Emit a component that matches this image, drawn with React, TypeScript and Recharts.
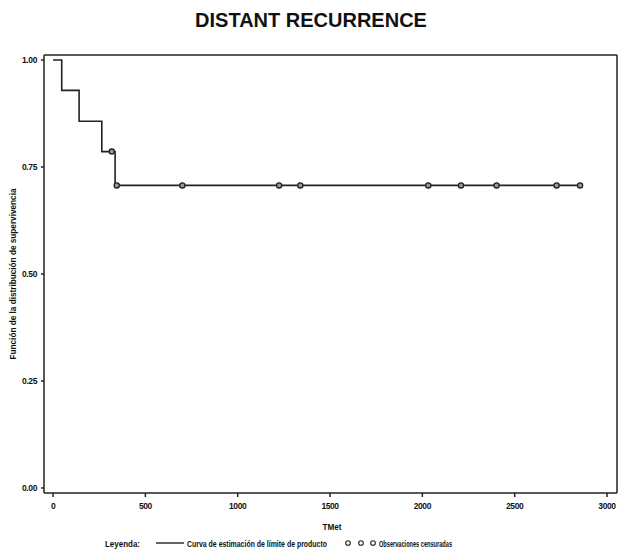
import React from "react";
import { ComposedChart, Line, Scatter, XAxis, YAxis, ReferenceLine } from "recharts";

const eventTimes = [0, 47, 141, 264, 336, 2854];
const survival = [1, 0.929, 0.857, 0.786, 0.707, 0.707];
const censorTimes = [318, 345, 700, 1224, 1339, 2032, 2209, 2402, 2727, 2854];
const censorSurv = [0.786, 0.707, 0.707, 0.707, 0.707, 0.707, 0.707, 0.707, 0.707, 0.707];
const xTicks = [0, 500, 1000, 1500, 2000, 2500, 3000];
const yTicks = [0, 0.25, 0.5, 0.75, 1];

const curve = eventTimes.map((t, i) => ({ t, s: survival[i] }));
const censored = censorTimes.map((t, i) => ({ t, s: censorSurv[i] }));

const X_MIN = -49;
const X_MAX = 3054;
const Y_MIN = -0.0117;
const Y_MAX = 1.0117;

const INK = "#222";
const FONT = "'Liberation Sans', Arial, sans-serif";

const CensorMark = (props: any) => {
  const { cx, cy } = props;
  return <circle cx={cx} cy={cy} r={2.6} fill="#999" stroke={INK} strokeWidth={1.3} />;
};

const tickStyle = { fill: "#111", fontSize: 8.5, fontFamily: FONT, fontWeight: "bold", letterSpacing: -0.4 } as any;

export default function App() {
  return (
    <div style={{ position: "absolute", left: 0, top: 0, width: 623, height: 552, background: "#fff" }}>
      <ComposedChart
        width={623}
        height={552}
        data={curve}
        margin={{ top: 55, right: 6, bottom: 29, left: 0 }}
      >
        <XAxis
          dataKey="t"
          type="number"
          domain={[X_MIN, X_MAX]}
          ticks={xTicks}
          allowDataOverflow
          height={30}
          tickSize={4}
          tickMargin={6}
          stroke={INK}
          strokeWidth={1.5}
          tick={tickStyle}
        />
        <YAxis
          dataKey="s"
          type="number"
          domain={[Y_MIN, Y_MAX]}
          ticks={yTicks}
          allowDataOverflow
          width={44}
          tickSize={3}
          tickMargin={4}
          stroke={INK}
          strokeWidth={1.5}
          tickFormatter={(v: number) => v.toFixed(2)}
          tick={tickStyle}
        />
        <ReferenceLine y={Y_MAX} stroke={INK} strokeWidth={1.5} />
        <ReferenceLine x={X_MAX} stroke={INK} strokeWidth={1.5} />
        <Line
          dataKey="s"
          type="stepAfter"
          stroke={INK}
          strokeWidth={1.6}
          dot={false}
          isAnimationActive={false}
        />
        <Scatter data={censored} dataKey="s" shape={CensorMark} isAnimationActive={false} />
      </ComposedChart>
      <svg
        width={623}
        height={552}
        style={{ position: "absolute", left: 0, top: 0, pointerEvents: "none" }}
      >
        <text
          x={311}
          y={27}
          textAnchor="middle"
          fontFamily={FONT}
          fontWeight="bold"
          fontSize={20}
          fill="#111"
        >
          DISTANT RECURRENCE
        </text>
        <text
          x={13}
          y={274}
          transform="rotate(-90 13 274)"
          textAnchor="middle"
          fontFamily={FONT}
          fontWeight="bold"
          fontSize={8.5}
          textLength={171}
          lengthAdjust="spacingAndGlyphs"
          dominantBaseline="central"
          fill="#111"
        >
          Función de la distribución de supervivencia
        </text>
        <text x={332} y={530} textAnchor="middle" fontFamily={FONT} fontWeight="bold" fontSize={8.5} textLength={19} lengthAdjust="spacingAndGlyphs" fill="#111">
          TMet
        </text>
        <text x={105} y={547} fontFamily={FONT} fontWeight="bold" fontSize={8.5} textLength={35} lengthAdjust="spacingAndGlyphs" fill="#111">
          Leyenda:
        </text>
        <line x1={156} y1={543} x2={184} y2={543} stroke={INK} strokeWidth={1.4} />
        <text x={187} y={547} fontFamily={FONT} fontWeight="bold" fontSize={8.5} textLength={140} lengthAdjust="spacingAndGlyphs" fill="#111">
          Curva de estimación de límite de producto
        </text>
        <circle cx={348} cy={543} r={2.3} fill="#fff" stroke={INK} strokeWidth={1.1} />
        <circle cx={361} cy={543} r={2.3} fill="#fff" stroke={INK} strokeWidth={1.1} />
        <circle cx={373} cy={543} r={2.3} fill="#fff" stroke={INK} strokeWidth={1.1} />
        <text x={379} y={547} fontFamily={FONT} fontWeight="bold" fontSize={8.5} textLength={73} lengthAdjust="spacingAndGlyphs" fill="#111">
          Observaciones censuradas
        </text>
      </svg>
    </div>
  );
}
